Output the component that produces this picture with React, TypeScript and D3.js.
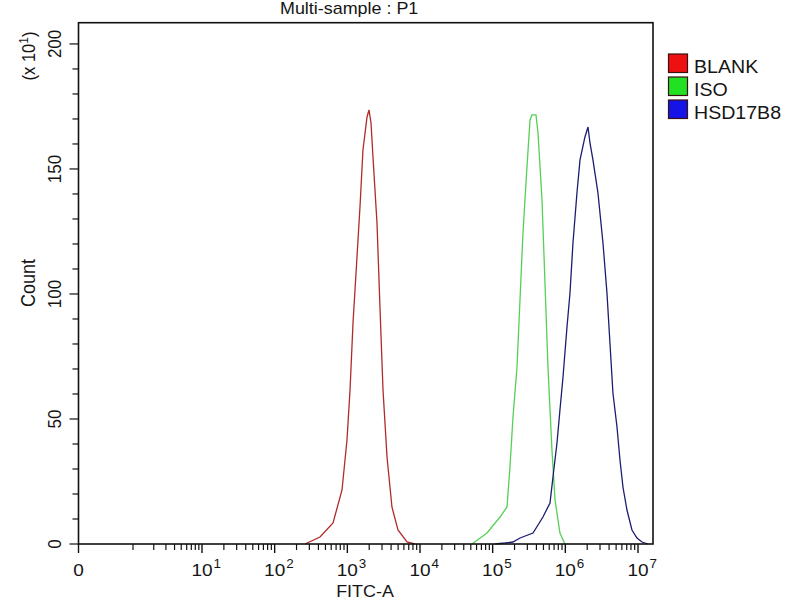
import React from "react";
import * as d3 from "d3";

// FITC-A intensity (x) and count in units of 10^1 (y)
const blankX = [261, 421, 635, 845, 989, 1089, 1197, 1358, 1493, 1641, 1866, 1986, 2118, 2254, 2559, 2812, 3097, 3516, 4111, 4977, 6622, 8531];
const blankCount = [0, 2.8, 8.4, 21.6, 41.6, 61.6, 88.4, 114.8, 134.8, 157.6, 170.8, 173.6, 168.4, 154.8, 128.4, 94.8, 61.6, 34.8, 14.8, 5.6, 0.8, 0];

const isoX = [51900, 83600, 126200, 157400, 173000, 190500, 216300, 237700, 261200, 296500, 326600, 347500, 394500, 420700, 477500, 524800, 576800, 654600, 721100, 843300, 988500];
const isoCount = [0, 4.4, 10.8, 14.8, 30.8, 50.8, 70.8, 97.6, 124.4, 150.8, 169.6, 171.6, 171.6, 164.4, 137.6, 104.4, 70.8, 37.6, 17.6, 4.4, 0];

const hsdX = [107600, 147600, 190500, 237700, 358900, 492000, 615200, 676100, 767400, 843300, 929000, 1054000, 1159000, 1274000, 1445000, 1592000, 1862000, 2051000, 2183000, 2399000, 2812000, 3296000, 3741000, 4111000, 4519000, 5140000, 5649000, 6209000, 7047000, 8260000, 9683000, 11350000, 13710000];
const hsdCount = [0, 0.4, 0.8, 2.4, 4.4, 10.8, 16.4, 26.8, 40.4, 53.6, 66.8, 86.8, 100.4, 120.4, 140.4, 153.6, 162.8, 166.8, 160.4, 153.6, 140.4, 120.4, 100.4, 80.4, 60.4, 46.8, 33.6, 22.8, 13.6, 5.6, 2.4, 0.8, 0];

const decades = [1, 2, 3, 4, 5, 6, 7];
const yTicks = [0, 50, 100, 150, 200];

const series = [
  { name: "BLANK", xs: blankX, ys: blankCount, line: "#b02a2a", swatch: "#ee1111" },
  { name: "ISO", xs: isoX, ys: isoCount, line: "#55d055", swatch: "#22e022" },
  { name: "HSD17B8", xs: hsdX, ys: hsdCount, line: "#1c1c70", swatch: "#1414e6" },
];

const font = "'Liberation Sans', Arial, sans-serif";
const stretch = 1.12;

const left = 78.5;
const right = 653;
const top = 22.7;
const bottom = 544;

function T({ x, y, size, anchor = "start", rotate = false, children }: any) {
  return (
    <g transform={`translate(${x},${y}) scale(${stretch},1)${rotate ? " rotate(-90)" : ""}`}>
      <text fontFamily={font} fontSize={size} textAnchor={anchor} fill="#151515">
        {children}
      </text>
    </g>
  );
}

export default function App() {
  const x = d3.scaleLog().domain([1, 10, 1e7]).range([133, 202, 638]);
  const y = d3.scaleLinear().domain([0, 208.5]).range([bottom, top]);

  const line = d3
    .line<[number, number]>()
    .x((d) => x(d[0]))
    .y((d) => y(d[1]));

  const minor: number[] = [];
  for (let k = 0; k <= 6; k++) {
    for (let m = 1; m <= 9; m++) {
      if (m === 1 && k > 0) continue;
      minor.push(m * Math.pow(10, k));
    }
  }
  const yMinor = d3.range(0, 201, 10);

  return (
    <svg
      width={800}
      height={600}
      style={{ position: "absolute", left: 0, top: 0, background: "#fff" }}
    >
      {/* curves */}
      {series.map((s) => (
        <path
          key={s.name}
          d={line(s.xs.map((v, i) => [v, s.ys[i]] as [number, number])) || ""}
          fill="none"
          stroke={s.line}
          strokeWidth={1.3}
        />
      ))}

      {/* frame */}
      <rect x={left} y={top} width={right - left} height={bottom - top} fill="none" stroke="#111" strokeWidth={1.6} />

      {/* x ticks */}
      <line x1={left} x2={left} y1={bottom} y2={bottom + 9} stroke="#111" strokeWidth={1.4} />
      {minor.map((v) => (
        <line key={v} x1={x(v)} x2={x(v)} y1={bottom} y2={bottom + 6} stroke="#111" strokeWidth={1.2} />
      ))}
      {decades.map((k) => (
        <line key={k} x1={x(Math.pow(10, k))} x2={x(Math.pow(10, k))} y1={bottom} y2={bottom + 9} stroke="#111" strokeWidth={1.4} />
      ))}
      <T x={left} y={576} size={17} anchor="middle">0</T>
      {decades.map((k) => (
        <g key={k}>
          <T x={x(Math.pow(10, k))} y={576} size={17} anchor="middle">10</T>
          <T x={x(Math.pow(10, k)) + 11.5} y={568} size={12}>{k}</T>
        </g>
      ))}
      <T x={365} y={597} size={16} anchor="middle">FITC-A</T>

      {/* y ticks */}
      {yMinor.map((v) => (
        <line key={v} x1={left - (v % 50 === 0 ? 9 : 6)} x2={left} y1={y(v)} y2={y(v)} stroke="#111" strokeWidth={1.2} />
      ))}
      {yTicks.map((v) => (
        <T key={v} x={61} y={y(v)} size={17} anchor="middle" rotate>
          {v}
        </T>
      ))}
      <T x={35} y={283} size={18} anchor="middle" rotate>Count</T>
      <T x={35} y={56} size={16.5} anchor="middle" rotate>
        (x 10<tspan fontSize={12} dy={-6}>1</tspan><tspan dy={6}>)</tspan>
      </T>

      {/* title */}
      <T x={280} y={13.5} size={16}>Multi-sample : P1</T>

      {/* legend */}
      {series.map((s, i) => (
        <g key={s.name}>
          <rect x={668.5} y={54 + i * 23} width={19} height={18.5} fill={s.swatch} stroke="#3a1010" strokeWidth={1.2} />
          <T x={694} y={72.5 + i * 23} size={17.5}>{s.name}</T>
        </g>
      ))}
    </svg>
  );
}
